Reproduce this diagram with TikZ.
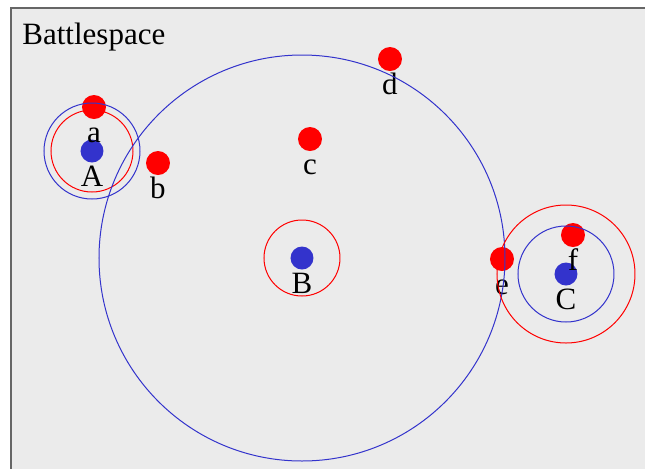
\documentclass[tikz,border=0pt]{standalone}
\usepackage{fontspec}
\setmainfont{Liberation Serif}
\usetikzlibrary{positioning}
\definecolor{fieldbg}{HTML}{EBEBEB}
\definecolor{framegray}{HTML}{666666}
\definecolor{sensorblue}{HTML}{3333CC}
\definecolor{targetred}{HTML}{FF0000}
\tikzset{
  field/.style={draw=framegray,fill=fieldbg,line width=1pt},
  target/.style={circle,fill=targetred,minimum size=12pt,inner sep=0pt},
  sensor/.style={circle,fill=sensorblue,minimum size=11.5pt,inner sep=0pt},
  tag/.style={font=\fontsize{15.5}{17}\selectfont,inner sep=0pt,
              text height=10pt,text depth=3pt},
  bluering/.style={draw=sensorblue,line width=0.5pt},
  redring/.style={draw=targetred,line width=0.5pt}
}

\begin{document}
\begin{tikzpicture}[x=0.5pt,y=-0.5pt]
    \useasboundingbox (0,0) rectangle (645,468);
    \clip (0,0) rectangle (645,468);
    \path[field] (11,8) rectangle (660,480);

    \node[tag,anchor=base west] (title) at (22,44) {Battlespace};

    % sensors
    \node[sensor] (A) at (92,151) {};
    \node[sensor] (B) at (302,258) {};
    \node[sensor] (C) at (566,274) {};
    % targets
    \node[target] (a) at (94,107) {};
    \node[target] (b) at (158,163) {};
    \node[target] (c) at (310,139) {};
    \node[target] (d) at (390,59) {};
    \node[target] (e) at (502,259) {};
    \node[target] (f) at (573,235) {};

    \node[tag,below=1.5pt of A] (lA) {A};
    \node[tag,below=1.5pt of B] (lB) {B};
    \node[tag,below=1.5pt of C] (lC) {C};
    \node[tag,below=1.5pt of a] (la) {a};
    \node[tag,below=1.5pt of b] (lb) {b};
    \node[tag,below=1.5pt of c] (lc) {c};
    \node[tag,below=1.5pt of d] (ld) {d};
    \node[tag,below=1.5pt of e] (le) {e};
    \node[tag,below=1.5pt of f] (lf) {f};

    % ranges
    \draw[bluering] (A) circle (24pt);
    \draw[redring] (A) circle (20.5pt);
    \draw[bluering] (B) circle (101.5pt);
    \draw[redring] (B) circle (19pt);
    \draw[bluering] (C) circle (24pt);
    \draw[redring] (C) circle (34.5pt);
\end{tikzpicture}
\end{document}
